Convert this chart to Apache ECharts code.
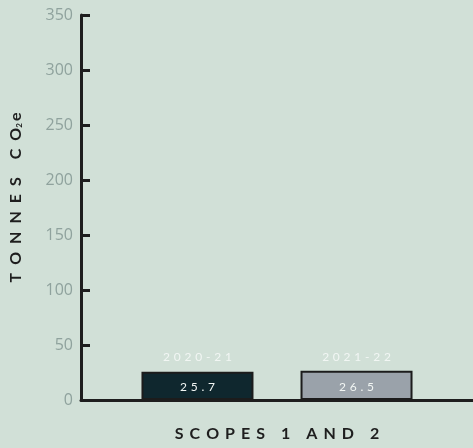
<!DOCTYPE html>
<html>
<head>
<meta charset="utf-8">
<script src="https://cdn.jsdelivr.net/npm/echarts@6/dist/echarts.min.js"></script>
<style>
  html, body { margin: 0; padding: 0; background: #d1e0d7; }
  #chart { width: 473px; height: 448px; }
</style>
</head>
<body>
<div id="chart"></div>
<script>
// Emissions by reporting year (tonnes CO2e)
const categories = ['SCOPES 1 AND 2'];
const years = ['2020-21', '2021-22'];
const emissions2021 = [25.7];
const emissions2122 = [26.5];
const yTicks = [0, 50, 100, 150, 200, 250, 300, 350];

const barFills = ['#0f272e', '#9aa2aa'];

// Widen text by putting a separator between characters
function spread(str, sep) {
  return str.split('').join(sep);
}

function makeSeries(name, values, fill) {
  return {
    name: name,
    type: 'bar',
    data: values,
    barWidth: 112,
    barGap: '42%',
    itemStyle: { color: fill, borderColor: '#1c1c1c', borderWidth: 2 },
    label: {
      show: true,
      position: 'insideBottom',
      distance: 0,
      formatter: function (p) {
        return '{yr|' + spread(name, '\u2009\u2009\u200a') + '}\n{val|' + spread(String(p.value), '\u2009\u2009\u200a') + '}';
      },
      rich: {
        yr: { color: '#f2f6f4', fontSize: 12, fontFamily: 'Lato', lineHeight: 34 },
        val: { color: '#f2f6f4', fontSize: 12, fontFamily: 'Lato', lineHeight: 26 }
      }
    }
  };
}

const chart = echarts.init(document.getElementById('chart'), null, { renderer: 'canvas' });
chart.setOption({
  backgroundColor: '#d1e0d7',
  animation: false,
  grid: { left: 75, right: 0, top: 15, bottom: 48, containLabel: false },
  xAxis: {
    type: 'category',
    data: categories,
    axisLine: { show: true, lineStyle: { color: '#1e1e1e', width: 3 } },
    axisTick: { show: false },
    axisLabel: {
      show: true,
      margin: 26,
      color: '#1e1e1e',
      fontFamily: 'Lato',
      fontWeight: 'bold',
      fontSize: 16,
      formatter: function (v) { return v.split(' ').map(w => spread(w, '\u2009\u2009\u2009')).join('\u2002\u2002'); }
    }
  },
  yAxis: {
    type: 'value',
    min: yTicks[0],
    max: yTicks[yTicks.length - 1],
    interval: 50,
    name: '{t|' + spread('TONNES', '\u2009\u2009\u2009\u2009') + '\u2002\u2002\u2009' + spread('CO', '\u2009\u2009\u2009\u2009') + '}{s|2}{t|\u2009e}',
    nameLocation: 'middle',
    nameRotate: 90,
    nameGap: 57,
    nameTextStyle: {
      padding: [0, 0, 0, 20],
      rich: {
        t: { fontFamily: 'Lato', fontWeight: 'bold', fontSize: 16, color: '#1e1e1e' },
        s: { fontFamily: 'Lato', fontWeight: 'bold', fontSize: 8, color: '#1e1e1e', padding: [7, 0, 0, 0] }
      }
    },
    axisLine: { show: true, lineStyle: { color: '#1e1e1e', width: 3 } },
    axisTick: { show: true, inside: true, length: 9, lineStyle: { color: '#1e1e1e', width: 3 } },
    splitLine: { show: false },
    axisLabel: {
      margin: 8,
      color: '#8fa29d',
      fontFamily: 'Open Sans',
      fontSize: 16
    }
  },
  series: [
    makeSeries(years[0], emissions2021, barFills[0]),
    makeSeries(years[1], emissions2122, barFills[1])
  ]
});
</script>
</body>
</html>
